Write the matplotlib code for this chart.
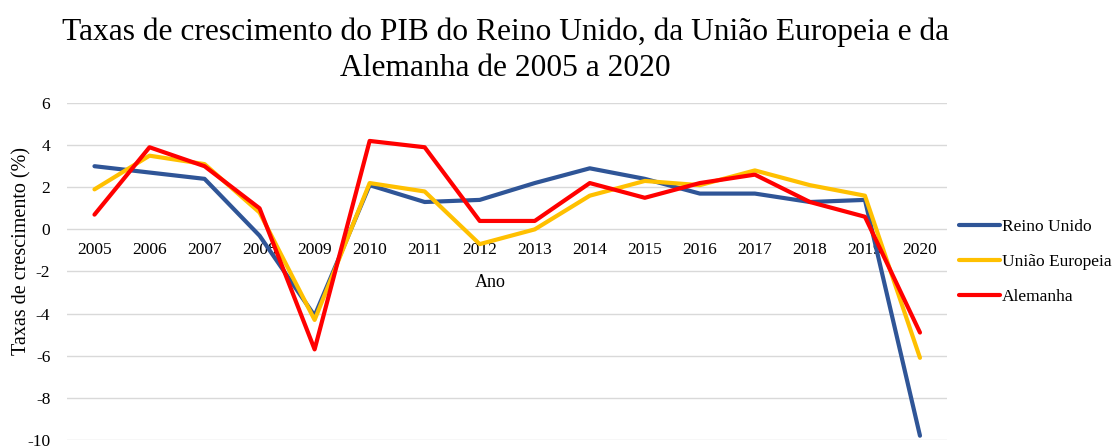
import matplotlib.pyplot as plt

years = list(range(2005, 2021))
reino_unido = [3.0, 2.7, 2.4, -0.3, -4.1, 2.1, 1.3, 1.4, 2.2, 2.9, 2.4, 1.7, 1.7, 1.3, 1.4, -9.8]
uniao_europeia = [1.9, 3.5, 3.1, 0.8, -4.3, 2.2, 1.8, -0.7, 0.0, 1.6, 2.3, 2.1, 2.8, 2.1, 1.6, -6.1]
alemanha = [0.7, 3.9, 3.0, 1.0, -5.7, 4.2, 3.9, 0.4, 0.4, 2.2, 1.5, 2.2, 2.6, 1.3, 0.6, -4.9]

series = [
    ("Reino Unido", reino_unido, "#2F5597"),
    ("União Europeia", uniao_europeia, "#FFC000"),
    ("Alemanha", alemanha, "#FF0000"),
]

plt.rcParams["font.family"] = ["Liberation Serif", "DejaVu Serif"]
plt.rcParams["axes.unicode_minus"] = False

fig = plt.figure(figsize=(11.16, 4.48), dpi=100)
ax = fig.add_axes([0.060, 0.018, 0.789, 0.752])

for name, vals, color in series:
    ax.plot(years, vals, color=color, lw=3, label=name, solid_capstyle="round")

ax.set_xlim(years[0] - 0.5, years[-1] + 0.5)
ax.set_ylim(-10, 6)
ax.set_yticks(range(-10, 7, 2))
ax.set_xticks(years)
ax.set_xticklabels([str(y) for y in years])
ax.grid(axis="y", color="#D9D9D9", lw=1)
ax.set_axisbelow(True)
for s in ax.spines.values():
    s.set_visible(False)
ax.spines["bottom"].set_position(("data", 0))
ax.tick_params(axis="x", length=0, pad=9, labelsize=12.5)
ax.tick_params(axis="y", length=0, pad=12, labelsize=12.5)

ax.set_ylabel("Taxas de crescimento (%)", fontsize=14.5)
ax.yaxis.set_label_coords(-0.040, 0.56)
ax.text(2012.2, -2.5, "Ano", ha="center", va="center", fontsize=13)

fig.text(0.453, 0.888, "Taxas de crescimento do PIB do Reino Unido, da União Europeia e da\nAlemanha de 2005 a 2020",
         ha="center", va="center", fontsize=22.7, linespacing=1.3)

fig.legend(loc="center left", bbox_to_anchor=(0.845, 0.415), frameon=False,
           fontsize=12.5, handlelength=2.4, handletextpad=0.1, labelspacing=1.1)

fig.savefig("out.png", dpi=100)
